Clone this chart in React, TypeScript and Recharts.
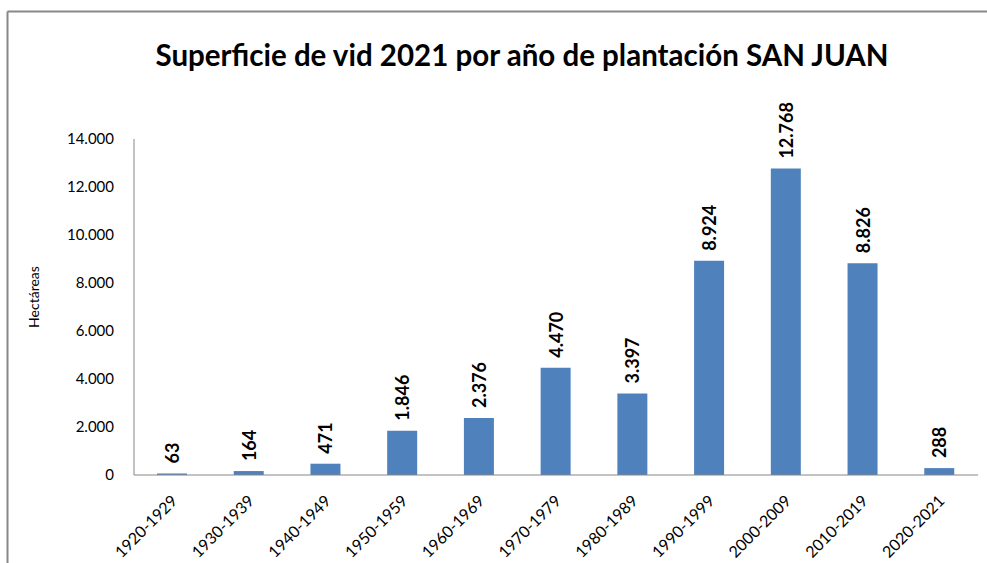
import { BarChart, Bar, XAxis, YAxis, LabelList } from 'recharts';

const periods = [
  '1920-1929', '1930-1939', '1940-1949', '1950-1959', '1960-1969', '1970-1979',
  '1980-1989', '1990-1999', '2000-2009', '2010-2019', '2020-2021',
];
const hectareas = [63, 164, 471, 1846, 2376, 4470, 3397, 8924, 12768, 8826, 288];
const yTicks = [0, 2000, 4000, 6000, 8000, 10000, 12000, 14000];

const data = periods.map((p, i) => ({ name: p, value: hectareas[i] }));

const FONT = 'Lato, "Open Sans", sans-serif';

const fmt = (v: number) => v.toString().replace(/\B(?=(\d{3})+(?!\d))/g, '.');

function XTick({ x, y, payload }: any) {
  return (
    <text
      x={x + 6}
      y={y + 19}
      transform={`rotate(-45, ${x + 6}, ${y + 19})`}
      textAnchor="end"
      fontSize={16}
      fontFamily={FONT}
      fill="#000"
    >
      {payload.value}
    </text>
  );
}

function BarLabel({ x, y, width, value }: any) {
  const cx = x + width / 2;
  const ty = y - 10;
  return (
    <text
      x={cx}
      y={ty}
      transform={`rotate(-90, ${cx}, ${ty})`}
      textAnchor="start"
      dominantBaseline="central"
      fontSize={18}
      fontWeight="bold"
      fontFamily={FONT}
      fill="#000"
    >
      {fmt(value)}
    </text>
  );
}

function YLabel() {
  return (
    <text
      x={33}
      y={297}
      transform="rotate(-90, 33, 297)"
      textAnchor="middle"
      dominantBaseline="central"
      fontSize={14}
      fontFamily={FONT}
      fill="#000"
    >
      Hectáreas
    </text>
  );
}

export default function App() {
  return (
    <div style={{ position: 'absolute', left: 0, top: 0, width: 987, height: 563, background: '#fff' }}>
      <svg width={987} height={563} style={{ position: 'absolute', left: 0, top: 0 }}>
        <line x1={7.5} y1={11.5} x2={987} y2={11.5} stroke="#888" strokeWidth={2} />
        <line x1={7.5} y1={11.5} x2={7.5} y2={563} stroke="#888" strokeWidth={2} />
        <text
          x={522}
          y={66}
          textAnchor="middle"
          fontSize={29.5}
          fontWeight="bold"
          fontFamily={FONT}
          fill="#000"
        >
          Superficie de vid 2021 por año de plantación SAN JUAN
        </text>
        <YLabel />
      </svg>
      <div style={{ position: 'absolute', left: 0, top: 0 }}>
        <BarChart
          width={987}
          height={563}
          data={data}
          margin={{ top: 139, right: 9, bottom: 18, left: 74 }}
        >
          <XAxis
            dataKey="name"
            axisLine={{ stroke: '#868686' }}
            tickLine={false}
            interval={0}
            height={70}
            tick={<XTick />}
          />
          <YAxis
            domain={[0, 14000]}
            ticks={yTicks}
            width={60}
            axisLine={{ stroke: '#868686' }}
            tickLine={false}
            tickSize={0}
            tickMargin={20}
            tickFormatter={fmt}
            tick={{ fontSize: 15, fontFamily: FONT, fill: '#000' }}
          />
          <Bar dataKey="value" fill="#4F81BD" barSize={30} isAnimationActive={false}>
            <LabelList dataKey="value" content={<BarLabel />} />
          </Bar>
        </BarChart>
      </div>
    </div>
  );
}
